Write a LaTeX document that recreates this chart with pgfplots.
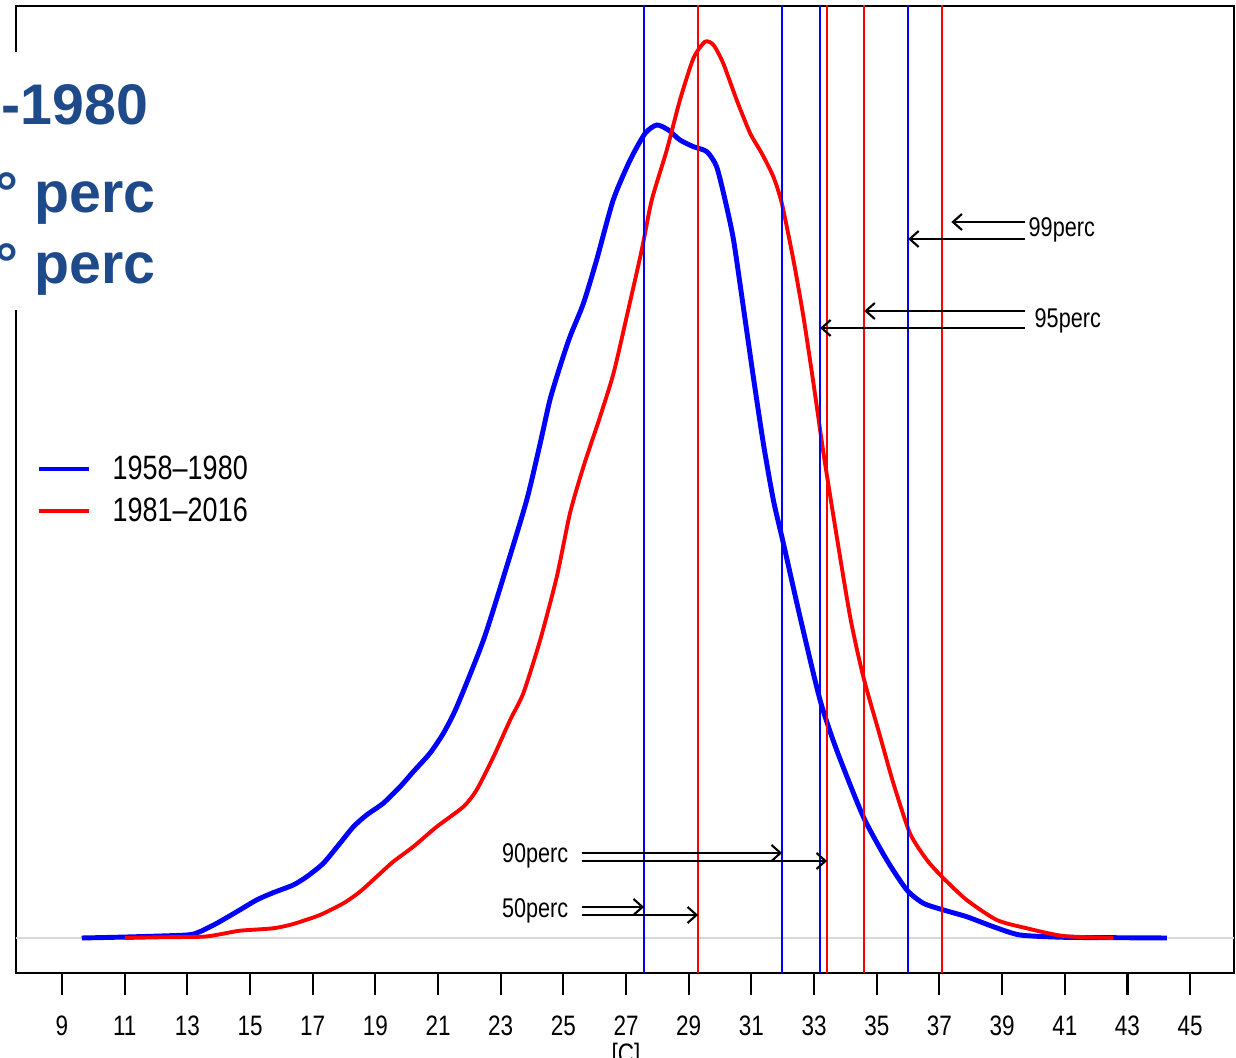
\documentclass[border=0pt]{standalone}
\usepackage{fontspec}
\setmainfont{Liberation Sans}[FakeStretch=0.8]
\newfontfamily\ovfont{Liberation Sans}
\usepackage{pgfplots}
\pgfplotsset{compat=1.18}
\usetikzlibrary{arrows.meta}
\definecolor{ovblue}{RGB}{31,74,138}
\definecolor{rblue}{RGB}{0,0,255}
\definecolor{rred}{RGB}{255,0,0}

\begin{document}
\begin{tikzpicture}[x=0.1mm,y=0.1mm]
\useasboundingbox (0,0) rectangle (1236,1058);
\clip (0,0) rectangle (1236,1058);
\begin{axis}[
    at={(16mm/10,85mm/10)}, anchor=south west,
    scale only axis, width=121.8mm, height=96.7mm,
    xmin=7.532, xmax=46.40, ymin=-35, ymax=932,
    axis line style={line width=0.6pt},
    xtick={9,11,...,45}, ytick=\empty,
    xtick pos=bottom, tick align=outside, major tick length=2.2mm,
    every tick/.style={black, line width=0.6pt},
    xticklabel style={font=\fontsize{8}{9.5}\selectfont, anchor=base, yshift=-4.1mm},
    /pgf/number format/assume math mode=true,
    clip=true,
]
% zero line
\addplot[gray!30, line width=0.5pt] coordinates {(7.532,0) (46.4,0)};

% density 1958-1980
\addplot[rblue, line width=1.4pt, smooth, tension=0.4] table {
x y
9.63 0
11.06 1
12.98 3
13.40 6.3
13.94 14.7
14.58 26.3
15.21 38
15.74 45.3
16.38 53
16.81 61.3
17.34 74.7
17.87 94.7
18.30 111.3
18.72 123
19.25 134.7
19.79 151.3
20.21 166.3
20.74 184.7
21.17 204.7
21.60 231.3
22.45 298
23.19 371.3
23.83 438
24.26 494.7
24.57 538
24.89 571.3
25.21 601.3
25.64 634.7
26.06 678
26.59 738
27.13 778
27.61 804.7
27.98 813
28.35 808
28.72 798
29.15 791.3
29.58 786.3
29.89 771.3
30.16 738
30.43 698
30.74 631.3
31.06 561.3
31.38 494.7
31.70 438
32.02 394.7
32.55 321.3
33.19 238
33.72 188
34.57 121.3
35.32 78
35.96 48
36.49 34.7
37.13 28
37.87 21.3
38.72 11.3
39.57 3
40.96 0.7
42.55 0.3
44.26 0
};

% density 1981-2016
\addplot[rred, line width=1.1pt, smooth, tension=0.4] table {
x y
11.01 0
12.13 0.7
13.51 1.3
14.04 3.7
14.68 7.3
15.74 9.7
16.38 14
17.23 23
17.98 34.7
18.51 46.3
19.04 61.3
19.57 76.3
20.21 91.3
20.96 111.3
21.81 131.3
22.23 148
22.77 181.3
23.30 218
23.72 244.7
24.26 298
24.79 361.3
25.21 424.7
25.64 471.3
26.17 521.3
26.60 564.7
27.02 621.3
27.50 688
27.82 738
28.30 788
28.72 838
29.15 879.7
29.52 896.3
29.79 893
30.10 874.7
30.53 838
30.96 804.7
31.33 784.7
31.70 761.3
31.97 734.7
32.34 678
32.66 621.3
32.98 554.7
33.30 484.7
33.62 421.3
34.15 321.3
34.57 261.3
35.11 201.3
35.53 154.7
36.06 104.7
36.60 78
37.13 59.7
37.87 38
38.83 18
39.79 9.7
40.96 2
42.55 0
};

% percentile lines
\addplot[rblue, line width=0.65pt] coordinates {(27.575,-40) (27.575,940)};
\addplot[rred,  line width=0.65pt] coordinates {(29.30,-40) (29.30,940)};
\addplot[rblue, line width=0.65pt] coordinates {(31.98,-40) (31.98,940)};
\addplot[rblue, line width=0.65pt] coordinates {(33.19,-40) (33.19,940)};
\addplot[rred,  line width=0.65pt] coordinates {(33.415,-40) (33.415,940)};
\addplot[rred,  line width=0.65pt] coordinates {(34.60,-40) (34.60,940)};
\addplot[rblue, line width=0.65pt] coordinates {(36.00,-40) (36.00,940)};
\addplot[rred,  line width=0.65pt] coordinates {(37.09,-40) (37.09,940)};

% arrows
\pgfplotsset{arr/.style={black, line width=0.6pt, -{Straight Barb[length=0.9mm,width=1.6mm]}}}
\addplot[arr] coordinates {(39.73,716) (37.38,716)};
\addplot[arr] coordinates {(39.73,699) (36.00,699)};
\addplot[arr] coordinates {(39.73,627) (34.60,627)};
\addplot[arr] coordinates {(39.73,610) (33.19,610)};
\addplot[arr] coordinates {(25.59,85) (31.98,85)};
\addplot[arr] coordinates {(25.59,77) (33.415,77)};
\addplot[arr] coordinates {(25.59,31) (27.575,31)};
\addplot[arr] coordinates {(25.59,23) (29.30,23)};
\end{axis}

% labels of arrows
\begin{scope}[every node/.style={inner sep=0pt, font=\fontsize{7.7}{9}\selectfont}]
\node[anchor=base west] at (1028,821) {99perc};
\node[anchor=base west] at (1034,730) {95perc};
\node[anchor=base east] at (569,195) {90perc};
\node[anchor=base east] at (569,140) {50perc};
\end{scope}

% legend
\draw[rblue, line width=1.4pt] (39,589) -- (89,589);
\draw[rred, line width=1.1pt] (39,547) -- (89,547);
\begin{scope}[every node/.style={inner sep=0pt, anchor=base west, font=\fontsize{9.6}{11}\selectfont}]
\node at (112,578) {1958–1980};
\node at (112,536) {1981–2016};
\end{scope}

% x label, cut by the edge
\node[inner sep=0pt, anchor=base, font=\fontsize{8}{9.5}\selectfont] at (626,-6) {[C]};

% overlay from a slide
\fill[white] (0,1006) rectangle (160,748);
\begin{scope}[every node/.style={inner sep=0pt, text=ovblue, font=\ovfont\bfseries\fontsize{16.3}{19}\selectfont}]
\node[anchor=base east] at (149,933) {-1980};
\node[anchor=base west] at (-5,845) {° perc};
\node[anchor=base west] at (-5,774) {° perc};
\end{scope}
\end{tikzpicture}
\end{document}
